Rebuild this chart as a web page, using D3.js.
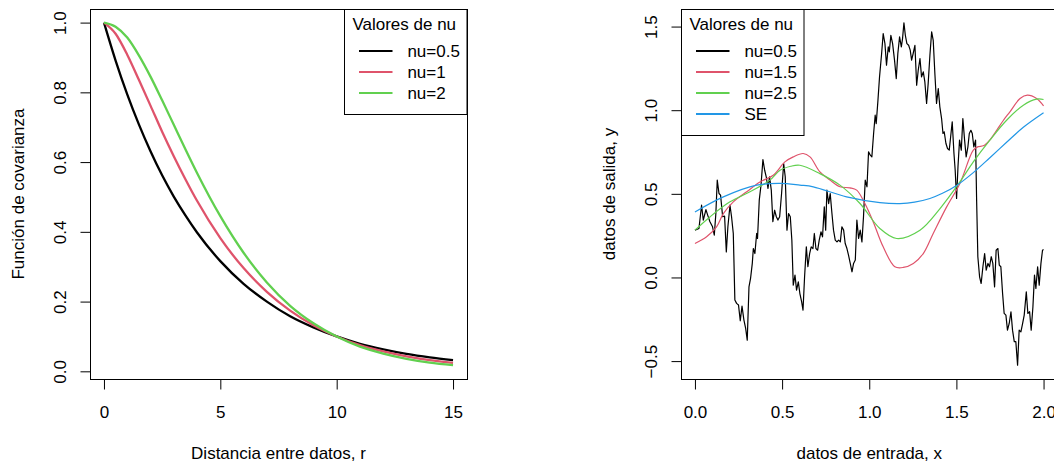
<!DOCTYPE html>
<html>
<head>
<meta charset="utf-8">
<script src="https://cdn.jsdelivr.net/npm/d3@7"></script>
<style>
  body { margin: 0; background: #fff; }
  svg text { font-family: "Liberation Sans", Arial, Helvetica, sans-serif; font-size: 17px; fill: #000; }
</style>
</head>
<body>
<div id="container"></div>
<script>
// ---- left panel: covariance functions ----
const covR = [0, 0.5, 1, 1.5, 2, 2.5, 3, 3.5, 4, 5, 6, 7, 8, 9, 10, 11, 12, 13, 14, 15];
const covNu05 = [1, 0.891, 0.794, 0.708, 0.631, 0.562, 0.501, 0.447, 0.398, 0.316, 0.251, 0.200, 0.158, 0.126, 0.100, 0.079, 0.063, 0.050, 0.040, 0.032];
const covNu1 = [1, 0.968, 0.908, 0.836, 0.762, 0.687, 0.617, 0.551, 0.489, 0.382, 0.296, 0.228, 0.174, 0.132, 0.100, 0.075, 0.057, 0.043, 0.032, 0.024];
const covNu2 = [1, 0.988, 0.957, 0.906, 0.845, 0.777, 0.707, 0.637, 0.569, 0.445, 0.340, 0.255, 0.188, 0.138, 0.100, 0.071, 0.051, 0.036, 0.025, 0.018];
const leftXTicks = [0, 5, 10, 15];
const leftYTicks = [0, 0.2, 0.4, 0.6, 0.8, 1.0];
const leftLegend = ["nu=0.5", "nu=1", "nu=2"];

// ---- right panel: samples ----
const gpX = [0.000,0.010,0.023,0.038,0.048,0.063,0.073,0.086,0.101,0.111,0.120,0.128,0.138,0.147,0.159,0.170,0.180,0.189,0.201,0.210,0.220,0.229,0.239,0.250,0.260,0.270,0.281,0.291,0.300,0.310,0.319,0.329,0.335,0.344,0.354,0.359,0.369,0.379,0.390,0.400,0.409,0.419,0.428,0.438,0.447,0.457,0.467,0.476,0.486,0.497,0.509,0.518,0.528,0.537,0.547,0.556,0.564,0.574,0.583,0.593,0.602,0.612,0.620,0.629,0.639,0.648,0.658,0.667,0.677,0.685,0.694,0.704,0.713,0.723,0.732,0.742,0.750,0.757,0.767,0.776,0.786,0.795,0.805,0.815,0.824,0.834,0.843,0.853,0.862,0.872,0.881,0.891,0.901,0.910,0.920,0.929,0.939,0.948,0.958,0.967,0.977,0.987,0.996,1.006,1.015,1.025,1.034,1.040,1.050,1.059,1.071,1.080,1.090,1.099,1.109,1.115,1.124,1.134,1.145,1.155,1.164,1.174,1.184,1.191,1.199,1.207,1.216,1.226,1.235,1.243,1.252,1.262,1.272,1.281,1.291,1.300,1.310,1.319,1.329,1.338,1.348,1.358,1.367,1.377,1.386,1.396,1.405,1.415,1.423,1.430,1.440,1.449,1.459,1.467,1.476,1.486,1.493,1.501,1.509,1.518,1.528,1.537,1.547,1.556,1.566,1.574,1.583,1.591,1.600,1.610,1.616,1.623,1.633,1.642,1.652,1.662,1.671,1.681,1.690,1.700,1.709,1.719,1.728,1.738,1.746,1.755,1.765,1.774,1.784,1.793,1.803,1.813,1.822,1.832,1.841,1.851,1.860,1.870,1.880,1.889,1.901,1.910,1.920,1.929,1.939,1.948,1.956,1.966,1.975,1.985,1.994,2.000];
const gpNu05 = [0.283,0.287,0.293,0.432,0.343,0.406,0.373,0.333,0.303,0.253,0.382,0.582,0.502,0.492,0.363,0.367,0.153,0.303,0.432,0.363,0.263,-0.135,-0.155,-0.165,-0.259,-0.171,-0.255,-0.305,-0.375,-0.056,-0.006,0.084,0.173,0.143,0.263,0.233,0.462,0.552,0.705,0.641,0.602,0.532,0.602,0.522,0.333,0.402,0.363,0.343,0.363,0.502,0.681,0.602,0.283,0.382,0.363,0.223,-0.046,0.014,-0.076,-0.026,-0.096,-0.145,-0.195,0.004,0.183,0.064,0.143,0.183,0.173,0.263,0.173,0.163,0.223,0.273,0.243,0.422,0.283,0.522,0.442,0.502,0.382,0.283,0.223,0.213,0.223,0.213,0.303,0.283,0.203,0.173,0.133,0.084,0.034,0.084,0.104,0.343,0.233,0.283,0.213,0.363,0.582,0.542,0.751,0.731,0.721,0.861,0.970,0.920,1.060,1.199,1.339,1.458,1.398,1.269,1.378,1.349,1.448,1.398,1.299,1.189,1.339,1.438,1.378,1.428,1.522,1.448,1.398,1.388,1.359,1.299,1.339,1.388,1.149,1.239,1.309,1.199,1.229,1.169,1.040,1.159,1.329,1.468,1.418,1.209,1.040,1.129,1.020,0.950,0.861,0.871,0.801,0.771,0.761,0.841,0.930,0.741,0.641,0.472,0.661,0.821,0.761,0.950,0.821,0.721,0.781,0.861,0.880,0.861,0.781,0.821,0.462,0.124,0.004,-0.036,0.064,0.143,0.044,0.084,0.064,0.124,0.084,-0.056,0.163,0.173,0.074,0.064,-0.096,-0.215,-0.225,-0.315,-0.275,-0.205,-0.315,-0.384,-0.384,-0.524,-0.315,-0.325,-0.275,-0.225,-0.086,-0.215,-0.205,-0.315,-0.175,0.014,-0.066,0.064,-0.046,0.084,0.163,0.167];
const nu15X = [0, 0.067, 0.124, 0.163, 0.22, 0.297, 0.373, 0.449, 0.516, 0.564, 0.621, 0.66, 0.717, 0.775, 0.832, 0.889, 0.928, 0.975, 1.023, 1.08, 1.147, 1.195, 1.253, 1.31, 1.367, 1.444, 1.52, 1.597, 1.625, 1.654, 1.69, 1.731, 1.77, 1.807, 1.865, 1.907, 1.96, 2.0];
const nu15Y = [0.203, 0.243, 0.302, 0.382, 0.452, 0.512, 0.571, 0.611, 0.691, 0.721, 0.741, 0.721, 0.631, 0.582, 0.542, 0.536, 0.522, 0.442, 0.332, 0.183, 0.064, 0.060, 0.084, 0.143, 0.263, 0.422, 0.562, 0.761, 0.782, 0.787, 0.82, 0.88, 0.94, 0.99, 1.07, 1.09, 1.07, 1.026];
const nu25X = [0, 0.086, 0.201, 0.316, 0.43, 0.488, 0.55, 0.602, 0.717, 0.832, 0.947, 1.061, 1.157, 1.291, 1.406, 1.52, 1.597, 1.692, 1.788, 1.884, 1.96, 2.0];
const nu25Y = [0.283, 0.362, 0.452, 0.512, 0.582, 0.641, 0.665, 0.671, 0.621, 0.552, 0.442, 0.293, 0.233, 0.283, 0.412, 0.571, 0.691, 0.821, 0.94, 1.03, 1.066, 1.064];
const seX = [0, 0.163, 0.354, 0.488, 0.602, 0.679, 0.87, 1.061, 1.176, 1.26, 1.348, 1.42, 1.501, 1.597, 1.692, 1.788, 1.884, 2.0];
const seY = [0.392, 0.482, 0.552, 0.562, 0.552, 0.542, 0.482, 0.448, 0.442, 0.450, 0.472, 0.503, 0.550, 0.627, 0.716, 0.808, 0.898, 0.985];
const rightXTicks = [0, 0.5, 1, 1.5, 2];
const rightYTicks = [-0.5, 0, 0.5, 1, 1.5];
const rightLegend = ["nu=0.5", "nu=1.5", "nu=2.5", "SE"];

const colors = ["#000000", "#DF536B", "#61D04F", "#2297E6"];

const width = 1054, height = 465;

const svg = d3
  .select("#container")
  .append("svg")
  .attr("width", width)
  .attr("height", height);

const zip = (xs, ys) => xs.map((x, i) => [x, ys[i]]);

function drawPanel(cfg) {
  const g = svg.append("g").attr("id", cfg.id);

  const x = d3.scaleLinear().domain(cfg.xDomain).range([cfg.left, cfg.right]);
  const y = d3.scaleLinear().domain(cfg.yDomain).range([cfg.bottom, cfg.top]);

  // clip to plot region
  g.append("clipPath")
    .attr("id", cfg.id + "-clip")
    .append("rect")
    .attr("x", cfg.left)
    .attr("y", cfg.top)
    .attr("width", cfg.right - cfg.left)
    .attr("height", cfg.bottom - cfg.top);

  const plot = g.append("g").attr("clip-path", `url(#${cfg.id}-clip)`);

  cfg.series.forEach(s => {
    const line = d3
      .line()
      .x(d => x(d[0]))
      .y(d => y(d[1]))
      .curve(s.curve);
    plot
      .append("path")
      .datum(s.data)
      .attr("d", line)
      .attr("fill", "none")
      .attr("stroke", s.color)
      .attr("stroke-width", s.width)
      .attr("stroke-linejoin", "round");
  });

  // box
  g.append("rect")
    .attr("x", cfg.left + 0.5)
    .attr("y", cfg.top + 0.5)
    .attr("width", cfg.right - cfg.left)
    .attr("height", cfg.bottom - cfg.top)
    .attr("fill", "none")
    .attr("stroke", "#000")
    .attr("stroke-width", 1);

  // x axis
  const gx = g
    .append("g")
    .attr("transform", `translate(0,${cfg.bottom + 0.5})`)
    .call(
      d3.axisBottom(x)
        .tickValues(cfg.xTicks)
        .tickFormat(cfg.xFormat)
        .tickSize(10)
        .tickSizeOuter(0)
    );
  gx.attr("font-size", null).attr("font-family", null);
  gx.select(".domain").remove();
  gx.selectAll(".tick line").attr("stroke", "#000");
  gx.selectAll(".tick text").attr("y", 38).attr("dy", null);

  // y axis (labels parallel to the axis, like R)
  const gy = g
    .append("g")
    .attr("transform", `translate(${cfg.left + 0.5},0)`)
    .call(
      d3.axisLeft(y)
        .tickValues(cfg.yTicks)
        .tickFormat(cfg.yFormat)
        .tickSize(10)
        .tickSizeOuter(0)
    );
  gy.attr("font-size", null).attr("font-family", null);
  gy.select(".domain").remove();
  gy.selectAll(".tick line").attr("stroke", "#000");
  gy.selectAll(".tick text")
    .attr("x", 0)
    .attr("y", -25)
    .attr("dy", null)
    .attr("text-anchor", "middle")
    .attr("transform", "rotate(-90)");

  // titles
  g.append("text")
    .attr("x", (cfg.left + cfg.right) / 2)
    .attr("y", 459)
    .attr("text-anchor", "middle")
    .text(cfg.xTitle);

  g.append("text")
    .attr("transform", `translate(${cfg.left - 66},${(cfg.top + cfg.bottom) / 2}) rotate(-90)`)
    .attr("text-anchor", "middle")
    .text(cfg.yTitle);

  // legend
  const lg = cfg.legend;
  const leg = g.append("g").attr("transform", `translate(${lg.x},${lg.y})`);
  leg.append("rect")
    .attr("x", 0.5)
    .attr("y", 0.5)
    .attr("width", 122.5)
    .attr("height", 42 + lg.labels.length * 21)
    .attr("fill", "#fff")
    .attr("stroke", "#000");
  leg.append("text").attr("x", 8.4).attr("y", 21).text("Valores de nu");
  lg.labels.forEach((lab, i) => {
    const ly = 42 + i * 21;
    leg.append("line")
      .attr("x1", 15).attr("x2", 48.5)
      .attr("y1", ly).attr("y2", ly)
      .attr("stroke", colors[i])
      .attr("stroke-width", 2.2);
    leg.append("text").attr("x", 63.4).attr("y", ly + 6).text(lab);
  });
}

// left panel
drawPanel({
  id: "left",
  left: 90, right: 467, top: 9, bottom: 379,
  xDomain: [-0.6, 15.6],
  yDomain: [-0.022, 1.039],
  xTicks: leftXTicks,
  yTicks: leftYTicks,
  xFormat: d3.format("d"),
  yFormat: d3.format(".1f"),
  xTitle: "Distancia entre datos, r",
  yTitle: "Función de covarianza",
  series: [
    { data: zip(covR, covNu05), color: colors[0], width: 2.3, curve: d3.curveMonotoneX },
    { data: zip(covR, covNu1), color: colors[1], width: 2.3, curve: d3.curveMonotoneX },
    { data: zip(covR, covNu2), color: colors[2], width: 2.3, curve: d3.curveMonotoneX }
  ],
  legend: { x: 344, y: 9, labels: leftLegend }
});

// right panel
drawPanel({
  id: "right",
  left: 681, right: 1057.5, top: 9, bottom: 379,
  xDomain: [-0.08, 2.08],
  yDomain: [-0.607, 1.605],
  xTicks: rightXTicks,
  yTicks: rightYTicks,
  xFormat: d3.format(".1f"),
  yFormat: d3.format(".1f"),
  xTitle: "datos de entrada, x",
  yTitle: "datos de salida, y",
  series: [
    { data: zip(gpX, gpNu05), color: colors[0], width: 1.2, curve: d3.curveLinear },
    { data: zip(nu15X, nu15Y), color: colors[1], width: 1.2, curve: d3.curveCatmullRom },
    { data: zip(nu25X, nu25Y), color: colors[2], width: 1.2, curve: d3.curveCatmullRom },
    { data: zip(seX, seY), color: colors[3], width: 1.2, curve: d3.curveCatmullRom }
  ],
  legend: { x: 681, y: 9, labels: rightLegend }
});
</script>
</body>
</html>
